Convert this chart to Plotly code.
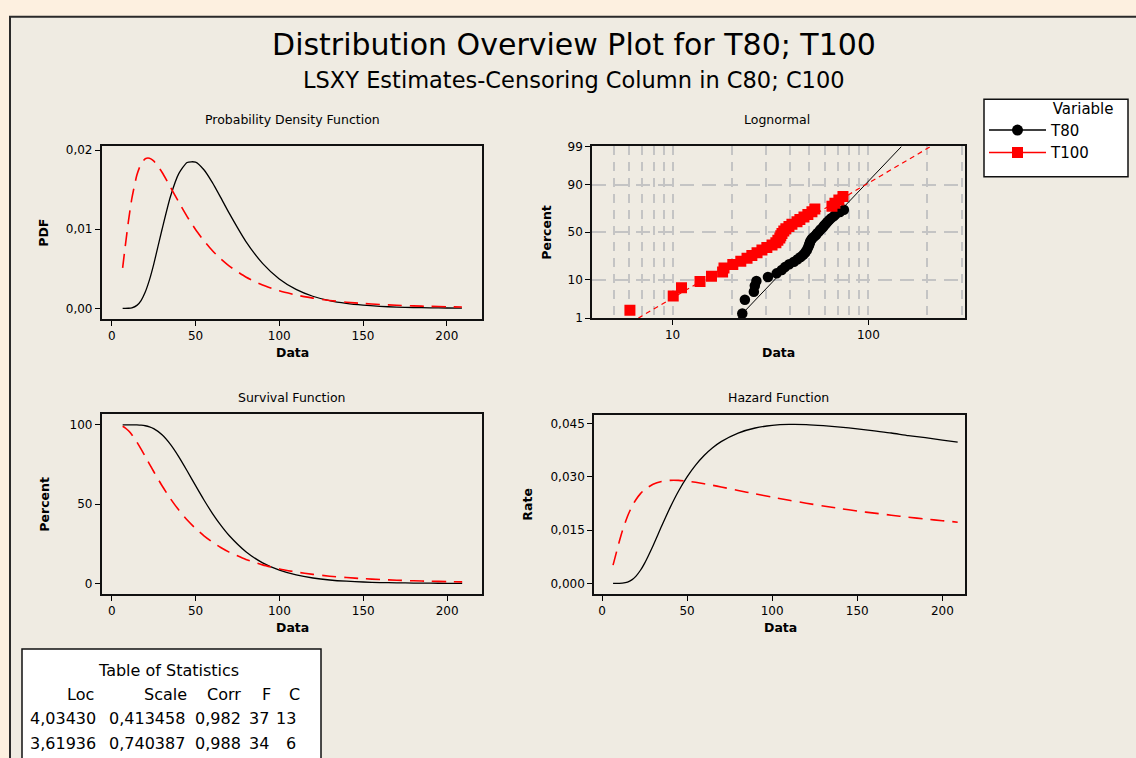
import plotly.graph_objects as go
from statistics import NormalDist

W, H = 1136, 758
FONT = "DejaVu Sans"

# ---------------- data ----------------
series_names = ["T80", "T100"]

x_grid = [6.5, 8, 10, 12, 15, 17.5, 20, 22.5, 25, 30, 35, 40, 45, 50, 55, 60, 65, 70,
          80, 90, 100, 110, 120, 130, 140, 150, 160, 170, 180, 190, 200, 209]

pdf_t80 = [0.0, 0.0, 0.000015, 0.000072, 0.000375, 0.000991, 0.002058, 0.003591, 0.005520,
           0.009959, 0.014094, 0.017016, 0.018426, 0.018472, 0.017507, 0.015913, 0.014017,
           0.012053, 0.008468, 0.005688, 0.003720, 0.002396, 0.001530, 0.000974, 0.000620,
           0.000396, 0.000254, 0.000163, 0.000106, 0.000069, 0.000045, 0.000031]
pdf_t100 = [0.005116, 0.007746, 0.011080, 0.013882, 0.016842, 0.018253, 0.018895, 0.018963,
            0.018620, 0.017198, 0.015338, 0.013411, 0.011597, 0.009967, 0.008540, 0.007310,
            0.006259, 0.005365, 0.003962, 0.002952, 0.002221, 0.001687, 0.001293, 0.001001,
            0.000781, 0.000615, 0.000487, 0.000389, 0.000313, 0.000253, 0.000206, 0.000172]

surv_t80 = [100, 100, 100, 99.99, 99.93, 99.77, 99.40, 98.70, 97.57, 93.71, 87.66, 79.83,
            70.90, 61.63, 52.60, 44.23, 36.74, 30.22, 20.02, 13.01, 8.37, 5.36, 3.43, 2.19,
            1.41, 0.91, 0.59, 0.39, 0.25, 0.17, 0.11, 0.08]
surv_t100 = [99.09, 98.12, 96.23, 93.73, 89.08, 84.68, 80.02, 75.28, 70.57, 61.59, 53.45,
             46.26, 40.01, 34.63, 30.01, 26.06, 22.67, 19.77, 15.15, 11.72, 9.15, 7.21, 5.73,
             4.59, 3.71, 3.02, 2.46, 2.03, 1.68, 1.40, 1.17, 1.00]

haz_t80 = [0.0, 0.0, 0.000015, 0.000072, 0.000375, 0.000993, 0.002070, 0.003638, 0.005658,
           0.010627, 0.016078, 0.021317, 0.025988, 0.029975, 0.033283, 0.035980, 0.038153,
           0.039890, 0.042300, 0.043720, 0.044450, 0.044720, 0.044670, 0.044390, 0.043990,
           0.043490, 0.042900, 0.042320, 0.041580, 0.040990, 0.040340, 0.039750]
haz_t100 = [0.005163, 0.007894, 0.011513, 0.014811, 0.018906, 0.021556, 0.023614, 0.025191,
            0.026384, 0.027925, 0.028698, 0.028992, 0.028982, 0.028779, 0.028454, 0.028051,
            0.027610, 0.027131, 0.026157, 0.025194, 0.024265, 0.023392, 0.022570, 0.021800,
            0.021073, 0.020356, 0.019789, 0.019193, 0.018644, 0.018127, 0.017645, 0.017230]

# probability-plot points (failure times and plotting positions, %)
t80_x = [22.7, 23.4, 26.0, 26.3, 26.8, 30.7, 34.0, 36.1, 37.5, 39.4, 41.7, 43.5, 45.1, 46.5,
         47.6, 48.4, 49.0, 49.5, 49.9, 50.3, 50.7, 51.5, 52.7, 54.0, 54.8, 56.1, 57.0, 58.4,
         59.3, 60.5, 61.7, 63.1, 64.6, 66.7, 68.2, 71.6, 75.0]
t80_pct = [1.39, 3.37, 5.36, 7.34, 9.33, 11.31, 13.29, 15.28, 17.26, 19.25, 21.23, 23.21,
           25.20, 27.18, 29.17, 31.15, 33.13, 35.12, 37.10, 39.09, 41.07, 43.06, 45.04, 47.02,
           49.01, 50.99, 52.98, 54.96, 56.94, 58.93, 60.91, 62.90, 64.88, 66.87, 68.85, 70.83,
           72.82]
t100_x = [6.05, 10.07, 11.1, 13.8, 15.8, 18.0, 18.3, 20.3, 22.3, 24.0, 25.4, 27.0, 28.6, 30.3,
          32.2, 33.7, 34.5, 35.3, 35.7, 36.2, 37.0, 37.9, 39.3, 40.7, 43.2, 44.7, 46.9, 49.1,
          51.5, 53.3, 65.2, 67.5, 70.7, 74.2]
t100_pct = [1.73, 4.21, 6.68, 9.16, 11.63, 14.11, 16.58, 19.06, 21.53, 24.01, 26.49, 28.96,
            31.44, 33.91, 36.39, 38.86, 41.34, 43.81, 46.29, 48.76, 51.24, 53.71, 56.19, 58.66,
            61.14, 63.61, 66.09, 68.56, 71.04, 73.51, 75.99, 78.47, 80.94, 83.42]

# fitted lines on probability paper (1% .. 99%)
fit_t80_x = [21.6, 147.9]
fit_t100_x = [6.67, 208.8]
fit_pct = [1, 99]

# tick labels
lin_ticks = [0, 50, 100, 150, 200]
pdf_ticks = [0.0, 0.01, 0.02]
pdf_ticktext = ["0,00", "0,01", "0,02"]
surv_ticks = [0, 50, 100]
haz_ticks = [0.0, 0.015, 0.030, 0.045]
haz_ticktext = ["0,000", "0,015", "0,030", "0,045"]
prob_ticks = [1, 10, 50, 90, 99]
logx_ticks = [10, 100]
logx_grid = [5, 6, 7, 8, 9, 20, 30, 40, 50, 60, 70, 80, 90, 200, 300]

# statistics table
stat_headers = ["Loc", "Scale", "Corr", "F", "C"]
stat_loc = [4.03430, 3.61936]
stat_scale = [0.413458, 0.740387]
stat_corr = [0.982, 0.988]
stat_f = [37, 34]
stat_c = [13, 6]

# ---------------- figure ----------------
nd = NormalDist()


def zq(p):
    return nd.inv_cdf(p / 100.0)


def fx(px):
    return px / W


def fy(py):
    return 1 - py / H


BLACK = "#000000"
RED = "#FF0000"
black_line = dict(color=BLACK, width=1.3, shape="spline", smoothing=0.6)
red_line = dict(color=RED, width=1.6, dash="14px,8px", shape="spline", smoothing=0.6)

fig = go.Figure()

# PDF
fig.add_trace(go.Scatter(x=x_grid, y=pdf_t80, mode="lines", line=black_line,
                         xaxis="x", yaxis="y", showlegend=False, name="T80"))
fig.add_trace(go.Scatter(x=x_grid, y=pdf_t100, mode="lines", line=red_line,
                         xaxis="x", yaxis="y", showlegend=False, name="T100"))
# Lognormal probability plot
fig.add_trace(go.Scatter(x=t80_x, y=[zq(p) for p in t80_pct], mode="markers",
                         marker=dict(symbol="circle", size=10.5, color=BLACK),
                         xaxis="x2", yaxis="y2", showlegend=False, name="T80"))
fig.add_trace(go.Scatter(x=t100_x, y=[zq(p) for p in t100_pct], mode="markers",
                         marker=dict(symbol="square", size=11, color=RED),
                         xaxis="x2", yaxis="y2", showlegend=False, name="T100"))
fig.add_trace(go.Scatter(x=fit_t80_x, y=[zq(p) for p in fit_pct], mode="lines",
                         line=dict(color=BLACK, width=1),
                         xaxis="x2", yaxis="y2", showlegend=False, name="T80"))
fig.add_trace(go.Scatter(x=fit_t100_x, y=[zq(p) for p in fit_pct], mode="lines",
                         line=dict(color=RED, width=1.2, dash="5px,4px"),
                         xaxis="x2", yaxis="y2", showlegend=False, name="T100"))
# Survival
fig.add_trace(go.Scatter(x=x_grid, y=surv_t80, mode="lines", line=black_line,
                         xaxis="x3", yaxis="y3", showlegend=False, name="T80"))
fig.add_trace(go.Scatter(x=x_grid, y=surv_t100, mode="lines", line=red_line,
                         xaxis="x3", yaxis="y3", showlegend=False, name="T100"))
# Hazard
fig.add_trace(go.Scatter(x=x_grid, y=haz_t80, mode="lines", line=black_line,
                         xaxis="x4", yaxis="y4", showlegend=False, name="T80"))
fig.add_trace(go.Scatter(x=x_grid, y=haz_t100, mode="lines", line=red_line,
                         xaxis="x4", yaxis="y4", showlegend=False, name="T100"))
# legend entries
fig.add_trace(go.Scatter(x=[None], y=[None], mode="lines+markers", name=series_names[0],
                         line=dict(color=BLACK, width=1.5),
                         marker=dict(symbol="circle", size=11, color=BLACK),
                         xaxis="x2", yaxis="y2", showlegend=True))
fig.add_trace(go.Scatter(x=[None], y=[None], mode="lines+markers", name=series_names[1],
                         line=dict(color=RED, width=1.5),
                         marker=dict(symbol="square", size=11, color=RED),
                         xaxis="x2", yaxis="y2", showlegend=True))

tickfont = dict(family=FONT, size=12, color=BLACK)
common = dict(showline=True, linecolor="#111111", linewidth=1.6, mirror=True,
              ticks="outside", ticklen=5, tickwidth=1, tickcolor=BLACK,
              showgrid=False, zeroline=False, tickfont=tickfont)
grid_style = {"showgrid": True, "gridcolor": "#C4C4C4", "gridwidth": 1.5}

legend_title = "\u00a0" * 14 + "Variable"

fig.update_layout(
    width=W, height=H, margin=dict(l=0, r=0, t=0, b=0),
    paper_bgcolor="#FDF0E0", plot_bgcolor="#FFFFFF",
    font=dict(family=FONT, color=BLACK),
    title=dict(text="Distribution Overview Plot for T80; T100", x=fx(574), y=fy(44),
               xanchor="center", yanchor="middle", font=dict(family=FONT, size=30, color=BLACK)),
    xaxis=dict(domain=[fx(101.7), fx(482)], range=[-6, 221], tickvals=lin_ticks,
               anchor="y", **common),
    yaxis=dict(domain=[fy(318), fy(142)], range=[-0.00136, 0.02046], tickvals=pdf_ticks,
               ticktext=pdf_ticktext, anchor="x", **common),
    xaxis2=dict(domain=[fx(592), fx(965)], type="log", range=[0.588, 2.494],
                tickvals=logx_ticks, ticktext=[str(v) for v in logx_ticks], anchor="y2",
                **{**common, **grid_style, "griddash": "9px,7px"},
                minor=dict(tickvals=logx_grid, ticks="", showgrid=True, gridcolor="#C4C4C4",
                           gridwidth=1.5, griddash="9px,7px")),
    yaxis2=dict(domain=[fy(317), fy(142)], range=[zq(1), zq(99)],
                tickvals=[zq(p) for p in prob_ticks], ticktext=[str(p) for p in prob_ticks],
                anchor="x2", **{**common, **grid_style, "griddash": "14px,8px"}),
    xaxis3=dict(domain=[fx(101.7), fx(482.3)], range=[-6, 221], tickvals=lin_ticks,
                anchor="y3", **common),
    yaxis3=dict(domain=[fy(598.3), fy(415)], range=[-6.8, 106.6], tickvals=surv_ticks,
                anchor="x3", **common),
    xaxis4=dict(domain=[fx(594), fx(965)], range=[-4.7, 213.3], tickvals=lin_ticks,
                anchor="y4", **common),
    yaxis4=dict(domain=[fy(598.3), fy(416)], range=[-0.00304, 0.04729], tickvals=haz_ticks,
                ticktext=haz_ticktext, anchor="x4", **common),
    legend=dict(x=fx(984), y=fy(89), xanchor="left", yanchor="top",
                bgcolor="rgba(0,0,0,0)", borderwidth=0,
                font=dict(family=FONT, size=15, color=BLACK),
                title=dict(text=legend_title, side="top",
                           font=dict(family=FONT, size=15, color=BLACK)),
                itemwidth=57, tracegroupgap=0),
)

shapes = [
    # inner panel background
    dict(type="rect", xref="paper", yref="paper", x0=fx(10), y0=fy(780), x1=fx(1150), y1=fy(10),
         fillcolor="#EFEBE2", line=dict(color="#2A2A2A", width=2), layer="below"),
    # statistics table frame
    dict(type="rect", xref="paper", yref="paper", x0=fx(22), y0=fy(790), x1=fx(321), y1=fy(654),
         fillcolor="#FFFFFF", line=dict(color="#111111", width=1.5), layer="below"),
    # legend frame
    dict(type="rect", xref="paper", yref="paper", x0=fx(984), y0=fy(173), x1=fx(1128), y1=fy(94),
         fillcolor="#FFFFFF", line=dict(color="#111111", width=1.5), layer="below"),
]
fig.update_layout(shapes=shapes)

ann = []


def add_text(text, x, y, size=12, xanchor="center", angle=0, bold=False):
    ann.append(dict(text=("<b>%s</b>" % text) if bold else text, x=fx(x), y=fy(y),
                    xref="paper", yref="paper", showarrow=False, xanchor=xanchor,
                    yanchor="middle", textangle=angle,
                    font=dict(family=FONT, size=size, color=BLACK)))


add_text("LSXY Estimates-Censoring Column in C80; C100", 574, 74, size=22.5)
# panel titles
add_text("Probability Density Function", 292, 115, size=12.5)
add_text("Lognormal", 777, 115, size=12.5)
add_text("Survival Function", 292, 398, size=12.5)
add_text("Hazard Function", 778, 398, size=12.5)
# axis titles
add_text("Data", 292, 352, size=12.5, bold=True)
add_text("Data", 778, 352, size=12.5, bold=True)
add_text("Data", 292, 632, size=12.5, bold=True)
add_text("Data", 780, 632, size=12.5, bold=True)
add_text("PDF", 44, 230, size=12.5, angle=-90, bold=True)
add_text("Percent", 547, 230, size=12.5, angle=-90, bold=True)
add_text("Percent", 45, 507, size=12.5, angle=-90, bold=True)
add_text("Rate", 528, 507, size=12.5, angle=-90, bold=True)

# statistics table
add_text("Table of Statistics", 168, 676, size=16)
head_right = [96, 189, 243, 273, 302]
col_right = [98, 187, 243, 271, 298]
for h, xr in zip(stat_headers, head_right):
    add_text(h, xr, 700, size=16, xanchor="right")
for r in range(2):
    cells = [("%.5f" % stat_loc[r]).replace(".", ","),
             ("%.6f" % stat_scale[r]).replace(".", ","),
             ("%.3f" % stat_corr[r]).replace(".", ","),
             str(stat_f[r]), str(stat_c[r])]
    yy = 725 + 25 * r
    for c, xr in zip(cells, col_right):
        add_text(c, xr, yy, size=16, xanchor="right")

fig.update_layout(annotations=ann)

fig.write_html("out.html")
